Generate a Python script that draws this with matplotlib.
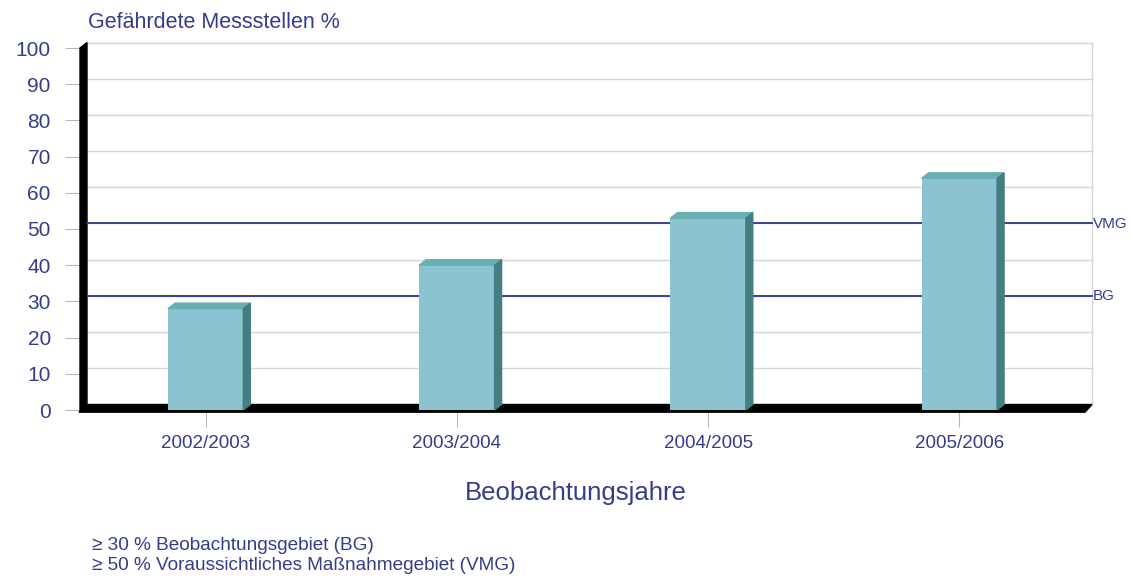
import matplotlib
matplotlib.use("Agg")
import matplotlib.pyplot as plt
from matplotlib.patches import Polygon

categories = ["2002/2003", "2003/2004", "2004/2005", "2005/2006"]
values = [28, 40, 53, 64]
thresholds = [30, 50]
threshold_labels = ["BG", "VMG"]
yticks = [0, 10, 20, 30, 40, 50, 60, 70, 80, 90, 100]
footnotes = ["≥ 30 % Beobachtungsgebiet (BG)", "≥ 50 % Voraussichtliches Maßnahmegebiet (VMG)"]

TXT = "#343d8c"
LINE = "#2a3590"
FRONT = "#8cc3d1"
TOP = "#6aaeb2"
SIDE = "#437f82"
FONT = ["Liberation Sans", "DejaVu Sans"]

W, H = 1132, 576
fig = plt.figure(figsize=(W / 100, H / 100), dpi=100)
L, R, T, B = 80, 1085, 48, 410
ax = fig.add_axes([L / W, 1 - B / H, (R - L) / W, (B - T) / H])
ax.set_xlim(-0.5, 3.5)
ax.set_ylim(0, 100)
for s in ax.spines.values():
    s.set_visible(False)

pxx = 4.0 / (R - L)
pxy = 100.0 / (B - T)
dx = 7 * pxx
dy = 5.5 * pxy

# back wall grid
for yv in yticks:
    ax.plot([-0.5 + dx, 3.5 + dx], [yv + dy, yv + dy], color="#d6d6d6", lw=1.0, zorder=1, clip_on=False)
ax.plot([3.5 + dx, 3.5 + dx], [dy, 100 + dy], color="#d6d6d6", lw=1.0, zorder=1, clip_on=False)

# floor and left wall
ax.add_patch(Polygon([(-0.5 - pxx, -0.6), (3.5, -0.6), (3.5 + dx, dy), (-0.5 + dx, dy)],
                     closed=True, color="black", zorder=2, clip_on=False))
ax.add_patch(Polygon([(-0.5, -0.6), (-0.5 + dx, dy), (-0.5 + dx, 100 + dy), (-0.5, 100)],
                     closed=True, color="black", zorder=2, clip_on=False))

# threshold lines
for tv, tl in zip(thresholds, threshold_labels):
    ax.plot([-0.5 + dx, 3.5 + dx], [tv + dy, tv + dy], color=LINE, lw=1.3, zorder=3, clip_on=False)
    ax.text(3.5 + 8 * pxx, tv + dy, tl, color=TXT, fontsize=11, va="center", ha="left",
            fontfamily=FONT)

# bars
bw = 0.3
xs = list(range(len(categories)))
ax.bar(xs, values, width=bw, color=FRONT, zorder=4, edgecolor="none")
for x, v in zip(xs, values):
    x0, x1 = x - bw / 2, x + bw / 2
    ax.add_patch(Polygon([(x0, v), (x1, v), (x1 + dx, v + dy), (x0 + dx, v + dy)],
                         closed=True, color=TOP, zorder=5, clip_on=False))
    ax.add_patch(Polygon([(x1, 0), (x1 + dx, dy), (x1 + dx, v + dy), (x1, v)],
                         closed=True, color=SIDE, zorder=5, clip_on=False))

ax.set_yticks(yticks)
ax.set_yticklabels([str(t) for t in yticks], color=TXT, fontsize=15, fontfamily=FONT)
ax.tick_params(axis="y", length=11, color="#b8b8b8", pad=10)
ax.set_xticks(xs)
ax.set_xticklabels(categories, color=TXT, fontsize=13.5, fontfamily=FONT)
ax.tick_params(axis="x", length=12, color="#b8b8b8", pad=6)

fig.text(88 / W, 1 - 22 / H, "Gefährdete Messstellen %", color=TXT, fontsize=15.5,
         fontfamily=FONT, va="center", ha="left")
fig.text(576 / W, 1 - 493 / H, "Beobachtungsjahre", color=TXT, fontsize=18.5,
         fontfamily=FONT, va="center", ha="center")
for i, fn in enumerate(footnotes):
    fig.text(92 / W, 1 - (546 + 19 * i) / H, fn, color=TXT, fontsize=13.7,
             fontfamily=FONT, va="center", ha="left")

fig.savefig("out.png", dpi=100)
